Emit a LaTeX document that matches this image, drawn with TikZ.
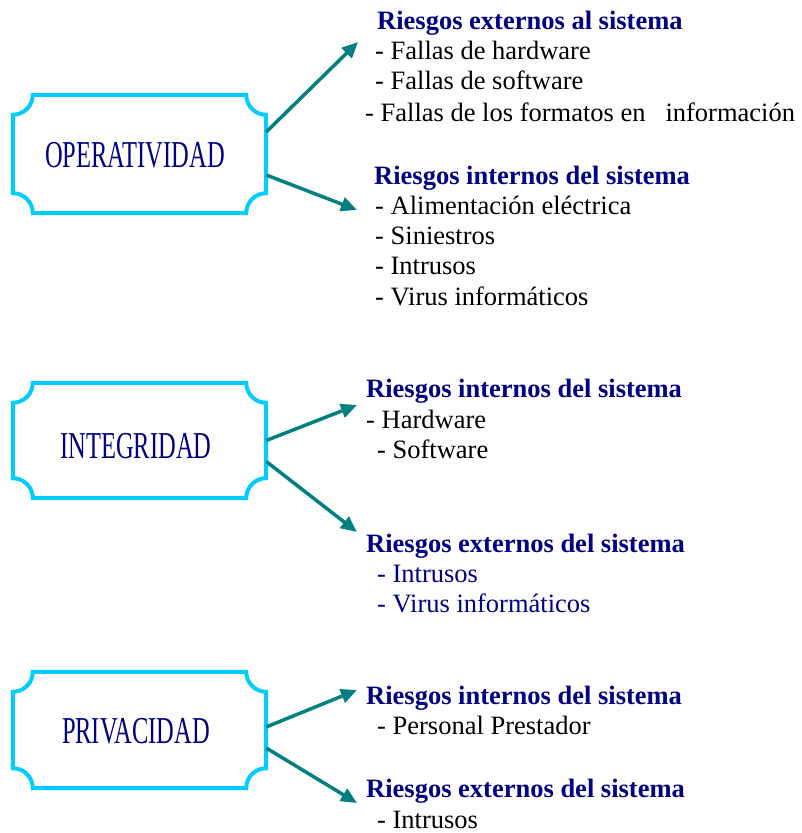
\documentclass[tikz,border=0pt]{standalone}
\usepackage{fontspec}
\setmainfont{Liberation Serif}
\newfontfamily\boxfont[FakeStretch=0.645]{Liberation Serif}
\usetikzlibrary{arrows.meta}
\definecolor{navy}{RGB}{0,0,128}
\definecolor{tealc}{RGB}{0,128,128}
\definecolor{framec}{RGB}{0,204,255}
\tikzset{
  scroll/.style={draw=none, minimum width=253pt, inner sep=0pt, font=\boxfont\fontsize{38}{38}\selectfont, text=navy},
  frame/.style={draw=framec, line width=4pt},
  arr/.style={draw=tealc, line width=3.5pt, -{Triangle[length=16pt,width=14pt]}},
  head/.style={anchor=base west, inner sep=0pt, font=\fontsize{26.5}{30}\selectfont\bfseries, text=navy},
  item/.style={anchor=base west, inner sep=0pt, font=\fontsize{26.5}{30}\selectfont, text=black},
  itemb/.style={item, text=navy}
}
\newcommand\scrollframe[1]{%
  \draw[frame] ([yshift=-20pt]#1.north west) arc[start angle=270,end angle=360,radius=20pt]
    -- ([xshift=-20pt]#1.north east) arc[start angle=180,end angle=270,radius=20pt]
    -- ([yshift=20pt]#1.south east) arc[start angle=90,end angle=180,radius=20pt]
    -- ([xshift=20pt]#1.south west) arc[start angle=0,end angle=90,radius=20pt]
    -- cycle;}
\begin{document}
\begin{tikzpicture}[x=1pt,y=1pt]
\useasboundingbox (0,0) rectangle (802,833);
% boxes
\node[scroll, minimum height=118pt] (op) at (139.5,679) {};
\node[scroll, minimum height=115pt] (in) at (139.5,392.5) {};
\node[scroll, minimum height=116pt] (pr) at (139.5,103) {};
\scrollframe{op}
\scrollframe{in}
\scrollframe{pr}
\node[scroll] (opt) at (135,678) {OPERATIVIDAD};
\node[scroll] (int) at (136,387) {INTEGRIDAD};
\node[scroll] (prt) at (136,102) {PRIVACIDAD};
% block 1
\node[head] (h1) at (377,{833-30}) {Riesgos externos al sistema};
\node[item] (e11) at (375,{833-60}) {- Fallas de hardware};
\node[item] (e12) at (375,{833-90}) {- Fallas de software};
\node[item] (e13) at (365,{833-122}) {- Fallas de los formatos en\ \ \ información};
% block 2
\node[head] (h2) at (374,{833-185}) {Riesgos internos del sistema};
\node[item] (e21) at (375,{833-215}) {- Alimentación eléctrica};
\node[item] (e22) at (375,{833-245}) {- Siniestros};
\node[item] (e23) at (375,{833-275}) {- Intrusos};
\node[item] (e24) at (375,{833-306}) {- Virus informáticos};
% block 3
\node[head] (h3) at (366,{833-398}) {Riesgos internos del sistema};
\node[item] (e31) at (366,{833-429}) {- Hardware};
\node[item] (e32) at (377,{833-459}) {- Software};
% block 4
\node[head] (h4) at (366,{833-553}) {Riesgos externos del sistema};
\node[itemb] (e41) at (377,{833-583}) {- Intrusos};
\node[itemb] (e42) at (377,{833-613}) {- Virus informáticos};
% block 5
\node[head] (h5) at (366,{833-705}) {Riesgos internos del sistema};
\node[item] (e51) at (377,{833-735}) {- Personal Prestador};
% block 6
\node[head] (h6) at (366,{833-798}) {Riesgos externos del sistema};
\node[item] (e61) at (377,{833-828}) {- Intrusos};
% arrow tips
\coordinate (t1) at (358,{833-42});
\coordinate (t2) at (357,{833-210});
\coordinate (t3) at (357,{833-405});
\coordinate (t4) at (357,{833-532});
\coordinate (t5) at (357,{833-690});
\coordinate (t6) at (357,{833-803});
\draw[arr] ([yshift=22pt]op.east) -- (t1);
\draw[arr] ([yshift=-21pt]op.east) -- (t2);
\draw[arr] ([yshift=0pt]in.east) -- (t3);
\draw[arr] ([yshift=-21pt]in.east) -- (t4);
\draw[arr] ([yshift=3pt]pr.east) -- (t5);
\draw[arr] ([yshift=-18pt]pr.east) -- (t6);
\end{tikzpicture}
\end{document}
